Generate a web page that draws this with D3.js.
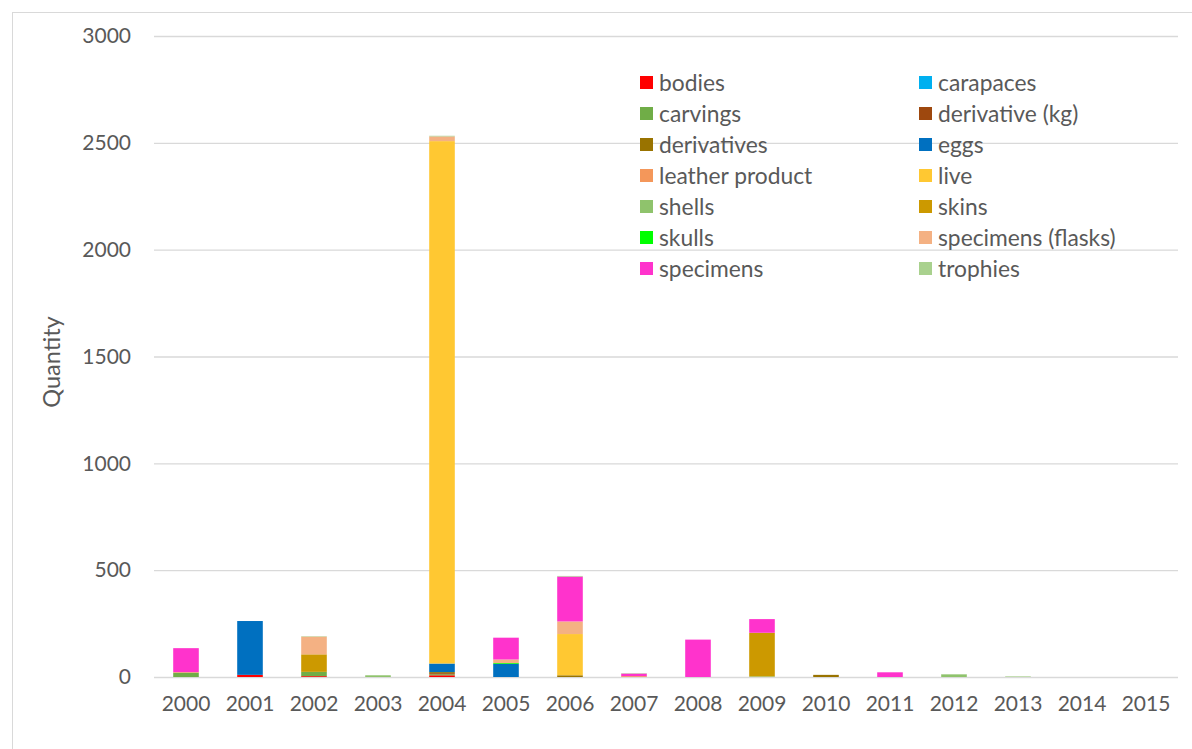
<!DOCTYPE html>
<html><head><meta charset="utf-8">
<script src="https://cdn.jsdelivr.net/npm/d3@7"></script>
<style>html,body{margin:0;padding:0;background:#fff;} text{font-family:Lato,"Open Sans",sans-serif;}</style>
</head><body>
<svg id="chart" width="1192" height="749"></svg>
<script>
const years = ["2000","2001","2002","2003","2004","2005","2006","2007","2008","2009","2010","2011","2012","2013","2014","2015"];
const seriesNames = ["bodies","carapaces","carvings","derivative (kg)","derivatives","eggs","leather product","live","shells","skins","skulls","specimens (flasks)","specimens","trophies"];
const seriesColors = ["#ff0000","#00b0f0","#70ad47","#9e480e","#997300","#0070c0","#f4975a","#ffc832","#8fc36c","#cc9900","#00ff00","#f4b183","#ff33cc","#a9d18e"];
//                     2000 01   02   03  04    05   06   07  08   09   10  11  12  13  14 15
const bodies        = [0,   10,  4,   0,  8,    0,   0,   0,  0,   0,   0,  0,  0,  0,  0, 0];
const carapaces     = [0,   0,   0,   0,  0,    0,   0,   0,  0,   0,   0,  0,  0,  0,  0, 0];
const carvings      = [20,  0,   20,  0,  5,    0,   0,   0,  0,   0,   0,  0,  0,  0,  0, 0];
const derivativeKg  = [0,   0,   0,   0,  5,    0,   0,   0,  0,   0,   0,  0,  0,  0,  0, 0];
const derivatives   = [0,   0,   0,   0,  5,    0,   8,   0,  0,   0,   10, 0,  0,  0,  0, 0];
const eggs          = [0,   252, 0,   0,  40,   61,  0,   0,  0,   0,   0,  0,  0,  0,  0, 0];
const leather       = [3,   0,   0,   0,  0,    0,   0,   4,  0,   0,   0,  0,  0,  0,  0, 0];
const live          = [0,   0,   0,   0,  2445, 0,   193, 0,  0,   0,   0,  0,  0,  0,  0, 0];
const shells        = [0,   0,   0,   8,  0,    0,   0,   0,  0,   3,   0,  0,  12, 0,  0, 0];
const skins         = [0,   0,   82,  0,  0,    0,   0,   0,  0,   204, 0,  0,  0,  0,  0, 0];
const skulls        = [0,   0,   0,   0,  0,    4,   0,   0,  0,   0,   0,  0,  0,  0,  0, 0];
const flasks        = [0,   0,   83,  0,  22,   17,  59,  0,  0,   0,   0,  0,  0,  0,  0, 0];
const specimens     = [112, 0,   0,   0,  0,    102, 210, 12, 175, 64,  0,  22, 0,  0,  0, 0];
const trophies      = [0,   0,   2,   0,  3,    0,   3,   2,  0,   0,   0,  0,  2,  3,  0, 0];
const yTicks = [0, 500, 1000, 1500, 2000, 2500, 3000];

const seriesValues = [bodies,carapaces,carvings,derivativeKg,derivatives,eggs,leather,live,shells,skins,skulls,flasks,specimens,trophies];
const table = years.map((y,i)=>{const o={year:y}; seriesNames.forEach((s,k)=>o[s]=seriesValues[k][i]); return o;});

const svg = d3.select("#chart");
// outer chart border
svg.append("rect").attr("x",12.5).attr("y",12.5).attr("width",1200).attr("height",760)
  .attr("fill","none").attr("stroke","#d9d9d9").attr("stroke-width",1);

const x = d3.scaleBand().domain(years).range([154,1178]).paddingInner(0.6).paddingOuter(0.3);
const y = d3.scaleLinear().domain([0,3000]).range([677,36]);

// gridlines
svg.append("g").selectAll("line").data(yTicks).join("line")
  .attr("x1",154).attr("x2",1178).attr("y1",d=>y(d)+0.5).attr("y2",d=>y(d)+0.5)
  .attr("stroke","#d9d9d9").attr("stroke-width",1.3);

const stack = d3.stack().keys(seriesNames)(table);
const g = svg.append("g");
stack.forEach((layer,k)=>{
  g.selectAll(null).data(layer.filter(d=>d[1]-d[0]>0)).join("rect")
    .attr("x",d=>x(d.data.year)).attr("width",x.bandwidth())
    .attr("y",d=>y(d[1])).attr("height",d=>y(d[0])-y(d[1]))
    .attr("fill",seriesColors[k]);
});

// y axis labels
const yAxis = d3.axisLeft(y).tickValues(yTicks).tickFormat(d3.format("d")).tickSize(0).tickPadding(0);
const ya = svg.append("g").attr("transform","translate(131,0)").call(yAxis);
ya.select(".domain").remove();
ya.selectAll("text").attr("font-size",21).attr("fill","#595959").style("font-family","Lato,'Open Sans',sans-serif");

// x axis labels
const xAxis = d3.axisBottom(x).tickSize(0).tickPadding(0);
const xa = svg.append("g").attr("transform","translate(0,696)").call(xAxis);
xa.select(".domain").remove();
xa.selectAll("text").attr("font-size",21).attr("fill","#595959").style("font-family","Lato,'Open Sans',sans-serif");

// y title
svg.append("text").attr("transform","translate(60,362) rotate(-90)").attr("text-anchor","middle")
  .attr("font-size",23.5).attr("fill","#595959").text("Quantity");

// legend
const lg = svg.append("g");
seriesNames.forEach((s,k)=>{
  const col = k%2, row = Math.floor(k/2);
  const lx = col===0 ? 640 : 919;
  const ly = 83 + row*31;
  lg.append("rect").attr("x",lx).attr("y",ly-7).attr("width",13).attr("height",13).attr("fill",seriesColors[k]);
  lg.append("text").attr("x",lx+19).attr("y",ly).attr("dy","0.35em").attr("font-size",22.8)
    .attr("fill","#595959").text(s);
});
</script>
</body></html>
